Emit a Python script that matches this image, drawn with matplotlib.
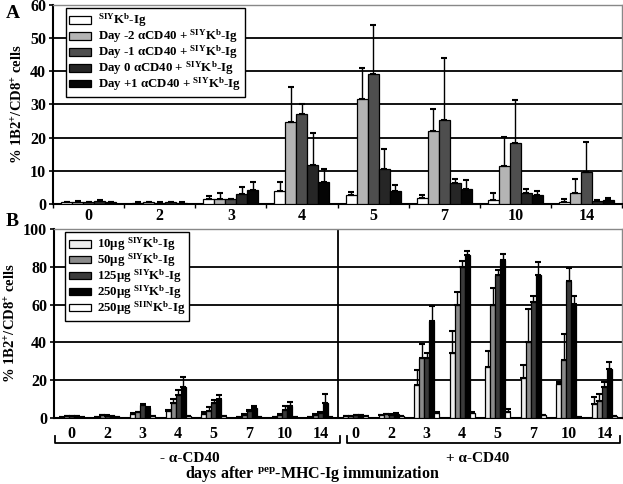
import matplotlib
matplotlib.use("Agg")
import matplotlib.pyplot as plt
import numpy as np
from matplotlib.patches import Patch

plt.rcParams['font.family'] = ['Liberation Serif', 'DejaVu Serif']
plt.rcParams['font.weight'] = 'bold'
plt.rcParams['mathtext.fontset'] = 'custom'
plt.rcParams['mathtext.rm'] = 'Liberation Serif:bold'
plt.rcParams['mathtext.it'] = 'Liberation Serif:bold'
plt.rcParams['mathtext.bf'] = 'Liberation Serif:bold'

days = ['0', '2', '3', '4', '5', '7', '10', '14']

# Panel A
a_labels = [r'$^{\mathrm{SIY}}$K$^{\mathrm{b}}$-Ig',
            r'Day -2 αCD40 + $^{\mathrm{SIY}}$K$^{\mathrm{b}}$-Ig',
            r'Day -1 αCD40 + $^{\mathrm{SIY}}$K$^{\mathrm{b}}$-Ig',
            r'Day 0 αCD40 + $^{\mathrm{SIY}}$K$^{\mathrm{b}}$-Ig',
            r'Day +1 αCD40 + $^{\mathrm{SIY}}$K$^{\mathrm{b}}$-Ig']
a_colors = ['#ffffff', '#b4b4b4', '#4e4e4e', '#262626', '#050505']
a_vals = [
    [0.5, 0.4, 1.4, 4.0, 2.7, 1.8, 1.3, 0.7],
    [0.6, 0.5, 1.6, 24.8, 31.8, 22.0, 11.5, 3.2],
    [0.5, 0.4, 1.4, 27.1, 39.2, 25.2, 18.4, 9.6],
    [0.9, 0.6, 3.0, 11.7, 10.6, 6.4, 3.3, 1.0],
    [0.5, 0.4, 4.2, 6.6, 4.0, 4.5, 2.7, 1.2],
]
a_tops = [
    [0.6, 0.5, 2.5, 6.7, 3.6, 2.6, 3.2, 1.4],
    [0.8, 0.6, 3.2, 35.2, 41.0, 28.6, 20.3, 7.4],
    [0.6, 0.5, 1.5, 30.2, 54.0, 44.0, 31.3, 18.6],
    [1.1, 0.7, 5.2, 21.5, 16.5, 7.4, 4.6, 1.2],
    [0.6, 0.5, 6.6, 10.5, 5.8, 7.2, 4.0, 1.9],
]

# Panel B
b_labels = [r'10µg $^{\mathrm{SIY}}$K$^{\mathrm{b}}$-Ig',
            r'50µg $^{\mathrm{SIY}}$K$^{\mathrm{b}}$-Ig',
            r'125µg $^{\mathrm{SIY}}$K$^{\mathrm{b}}$-Ig',
            r'250µg $^{\mathrm{SIY}}$K$^{\mathrm{b}}$-Ig',
            r'250µg $^{\mathrm{SIIN}}$K$^{\mathrm{b}}$-Ig']
b_colors = ['#eeeeee', '#8a8a8a', '#3a3a3a', '#000000', '#ffffff']
b_days = days + days
b_vals = [
    [0.5, 0.6, 2.1, 3.6, 2.1, 0.5, 0.5, 0.5, 1.0, 1.5, 17.2, 34.4, 26.8, 20.9, 18.0, 7.5],
    [0.8, 1.5, 3.0, 7.7, 3.9, 1.8, 1.8, 1.8, 1.2, 2.0, 32.0, 60.0, 59.6, 40.4, 30.7, 9.1],
    [1.0, 1.2, 6.8, 12.0, 8.0, 3.6, 4.1, 2.7, 1.5, 1.8, 32.0, 80.0, 75.4, 61.4, 72.5, 16.3],
    [0.8, 1.0, 5.5, 16.3, 10.2, 5.4, 6.2, 8.0, 1.5, 2.2, 51.4, 86.5, 83.7, 75.4, 60.5, 25.8],
    [0.5, 0.5, 1.2, 1.0, 0.9, 0.5, 0.4, 0.5, 1.0, 1.0, 2.8, 2.8, 3.3, 1.4, 0.5, 0.9],
]
b_tops = [
    [0.6, 0.7, 2.4, 4.0, 3.2, 0.6, 0.6, 0.6, 1.1, 1.7, 25.4, 46.0, 35.4, 28.2, 18.8, 10.9],
    [0.9, 1.7, 3.4, 10.2, 5.9, 2.0, 2.1, 2.0, 1.3, 2.2, 39.0, 66.5, 68.8, 57.5, 44.6, 12.5],
    [1.1, 1.4, 7.5, 15.0, 9.3, 4.0, 6.2, 3.0, 1.6, 2.0, 34.4, 83.0, 78.4, 64.4, 79.3, 19.0],
    [0.9, 1.1, 6.0, 21.5, 12.0, 6.2, 8.4, 12.5, 1.6, 2.5, 59.0, 88.2, 86.8, 82.3, 64.4, 29.8],
    [0.6, 0.6, 1.3, 1.1, 1.0, 0.6, 0.5, 0.6, 1.1, 1.1, 3.2, 3.2, 4.9, 1.6, 0.6, 1.0],
]

W, H = 623, 484
fig = plt.figure(figsize=(W / 100, H / 100), dpi=100)

def px(l, t, r, b):
    return [l / W, 1 - b / H, (r - l) / W, (b - t) / H]

FS = 11.5
LFS = 9.3

def grouped(ax, vals, tops, colors, width, ngroups):
    x = np.arange(ngroups)
    n = len(vals)
    for j in range(n):
        xs = x + (j - (n - 1) / 2) * width
        v = np.array(vals[j]); t = np.array(tops[j])
        ax.bar(xs, v, width, color=colors[j], edgecolor='black', linewidth=0.9, zorder=3)
        ax.errorbar(xs, v, yerr=[np.zeros_like(v), t - v], fmt='none', ecolor='black',
                    elinewidth=1.0, capsize=2.2, capthick=1.5, zorder=4)

def style(ax, ymax, step):
    ax.set_ylim(0, ymax)
    ax.set_yticks(np.arange(0, ymax + 1, step))
    ax.yaxis.grid(True, color='black', linewidth=1.3, zorder=0)
    ax.set_axisbelow(True)
    for s in ['top', 'right']:
        ax.spines[s].set_color('#888888')
        ax.spines[s].set_linewidth(1.0)
    for s in ['left', 'bottom']:
        ax.spines[s].set_color('black')
        ax.spines[s].set_linewidth(1.5)
    ax.tick_params(axis='y', labelsize=FS, length=3, width=1.2, pad=2)
    for lbl in ax.get_yticklabels():
        lbl.set_fontweight('bold')
    ax.set_ylabel(r'% 1B2$^{+}$/CD8$^{+}$ cells', fontsize=10.5, fontweight='bold', labelpad=3)

def legend(ax, colors, labels, anchor):
    leg = ax.legend(handles=[Patch(facecolor=c, edgecolor='black', linewidth=0.9) for c in colors],
                    labels=labels, loc='upper left', bbox_to_anchor=anchor,
                    fontsize=LFS, frameon=True, fancybox=False, edgecolor='black',
                    handlelength=1.7, handleheight=0.55, handletextpad=0.5,
                    labelspacing=-0.12, borderpad=0.3, borderaxespad=0)
    leg.get_frame().set_linewidth(1.0)
    leg.get_frame().set_alpha(1)
    for t in leg.get_texts():
        t.set_fontweight('bold')
    return leg

# ---- Panel A
axA = fig.add_axes(px(53, 5, 622, 204))
grouped(axA, a_vals, a_tops, a_colors, 0.155, 8)
axA.set_xlim(-0.5, 7.5)
style(axA, 60, 10)
axA.set_xticks(np.arange(8))
axA.set_xticklabels(days, fontsize=FS, fontweight='bold')
axA.tick_params(axis='x', length=0, pad=3)
axA.set_xticks(np.arange(-0.5, 8, 1), minor=True)
axA.tick_params(axis='x', which='minor', length=3, width=1.0)
legend(axA, a_colors, a_labels, (0.022, 0.985))
fig.text(6 / W, 1 - 13 / H, 'A', fontsize=14, fontweight='bold', va='center', ha='left')

# ---- Panel B
axB = fig.add_axes(px(54, 229, 622, 418))
grouped(axB, b_vals, b_tops, b_colors, 0.14, 16)
axB.set_xlim(-0.5, 15.5)
style(axB, 100, 20)
axB.axvline(7.5, color='black', linewidth=1.3, zorder=2)
axB.set_xticks(np.arange(16))
axB.set_xticklabels(b_days, fontsize=FS, fontweight='bold')
axB.tick_params(axis='x', length=0, pad=6)
legend(axB, b_colors, b_labels, (0.019, 0.985))
fig.text(6 / W, 1 - 222 / H, 'B', fontsize=14, fontweight='bold', va='center', ha='left')

# brackets
def fx(x):
    return x / W
def fy(y):
    return 1 - y / H
for (l, r) in [(55, 340), (347, 620)]:
    fig.add_artist(plt.Line2D([fx(l), fx(l), fx(r), fx(r)], [fy(436), fy(443), fy(443), fy(436)],
                              color='black', linewidth=1.3))
fig.text(fx(190), fy(458), '- α-CD40', fontsize=11, fontweight='bold', ha='center', va='center')
fig.text(fx(478), fy(458), '+ α-CD40', fontsize=11, fontweight='bold', ha='center', va='center')
fig.text(fx(312), fy(474), r'days after $^{\mathrm{pep}}$-MHC-Ig immunization', fontsize=11.5,
         fontweight='bold', ha='center', va='center')

fig.savefig('out.png', dpi=100)
